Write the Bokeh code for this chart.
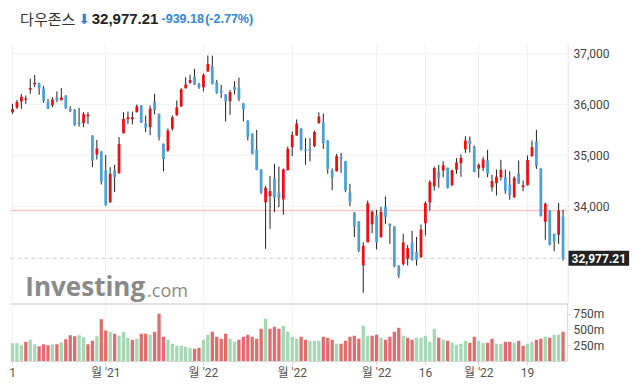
from bokeh.plotting import figure
from bokeh.models import (Range1d, FixedTicker, PrintfTickFormatter,
                          Span, Label, ColumnDataSource)
from bokeh.core.properties import value
from bokeh.layouts import column, row
from bokeh.embed import file_html
from bokeh.resources import INLINE

# ---------------- data ----------------
title_name = "다우존스"
x_tick_idx = [0, 21, 43, 63, 82, 93, 105, 116]
x_tick_labels = ["1", "월 '21", "월 '22", "월 '22", "월 '22", "16", "월 '22", "19"]
price_ticks = [34000, 35000, 36000, 37000]
vol_ticks = [250, 500, 750]
prev_close_start = 35819.56

opens = [35853, 35945, 36063, 36096, 36293, 36404, 36430, 36319, 36063, 35991,
         36142, 36089, 36181, 35919, 35899, 35650, 35636, 35774, 35394, 35020,
         35079, 34705, 34081, 34705, 34652, 35440, 35715, 35715, 35853, 35984,
         35630, 35558, 36056, 35820, 35230, 35092, 35525, 35794, 35965, 36325,
         36430, 36555, 36411, 36345, 36654, 36745, 36437, 36280, 36201, 36070,
         36358, 36339, 36024, 35689, 35433, 35118, 34724, 34081, 34199, 34554,
         34272, 34134, 34711, 35164, 35394, 35532, 35118, 35118, 35184, 35637,
         35643, 35295, 34705, 34691, 34967, 34889, 34278, 33878, 33701, 32835,
         33294, 33648, 33825, 33392, 33996, 33655, 33602, 32834, 32861, 32966,
         33281, 33104, 32999, 33668, 34075, 34396, 34685, 34704, 34757, 34416,
         34718, 34849, 35125, 35295, 35177, 34744, 34757, 34902, 34377, 34455,
         34573, 34573, 34429, 34180, 34646, 34377, 34416, 34987, 35276, 34744,
         33694, 33917, 33458, 33438, 33799]

highs = [36017, 36095, 36214, 36180, 36509, 36588, 36430, 36371, 36115, 36148,
         36260, 36325, 36185, 35971, 35912, 35938, 35853, 35853, 35394, 35308,
         35085, 35013, 34770, 34816, 35361, 35853, 35866, 35866, 36004, 35990,
         35787, 35984, 36214, 35825, 35235, 35532, 35787, 36083, 36325, 36542,
         36588, 36706, 36430, 36614, 36968, 36968, 36489, 36391, 36205, 36293,
         36463, 36535, 36030, 35695, 35438, 35505, 34730, 34400, 34600, 34836,
         34783, 34744, 35177, 35473, 35709, 35537, 35341, 35341, 35492, 35847,
         35827, 35300, 34744, 35033, 35053, 34895, 34442, 33885, 33706, 33294,
         34114, 33917, 33930, 33990, 34193, 33660, 33607, 32840, 33458, 33241,
         33517, 33399, 33642, 34094, 34514, 34783, 34816, 34888, 34760, 34724,
         34947, 35020, 35380, 35374, 35197, 34842, 34974, 35111, 34619, 34724,
         34915, 34724, 34691, 34590, 34902, 34508, 35000, 35295, 35505, 34750,
         34070, 33920, 33460, 34062, 33930]

lows = [35820, 35918, 35919, 36017, 36214, 36345, 36194, 36037, 35915, 35952,
        36050, 36083, 35919, 35853, 35584, 35571, 35558, 35623, 34770, 34921,
        34429, 34010, 34068, 34278, 34645, 35435, 35623, 35610, 35850, 35640,
        35459, 35400, 35807, 35295, 34685, 35072, 35492, 35781, 35960, 36320,
        36411, 36390, 36312, 36260, 36650, 36400, 36214, 36129, 35669, 35801,
        36201, 36070, 35669, 35295, 35020, 34710, 34245, 33163, 33556, 33884,
        33983, 33832, 34705, 34987, 35390, 35098, 34816, 34882, 35164, 35630,
        35131, 34639, 34317, 34685, 34659, 34278, 34002, 33392, 33097, 32297,
        33290, 33471, 33150, 33385, 33655, 33261, 32800, 32592, 32834, 32834,
        32933, 32834, 32986, 33425, 33917, 34311, 34363, 34573, 34350, 34396,
        34639, 34580, 35052, 35059, 34670, 34560, 34692, 34573, 34291, 34213,
        34508, 34245, 34127, 34167, 34442, 34298, 34410, 34980, 34737, 33800,
        33340, 33230, 33117, 33261, 32933]

closes = [35913.84, 36052.63, 36157.58, 36124.23, 36327.95, 36432.22, 36319.98, 36079.94, 35921.23, 36100.31,
          36087.45, 36142.22, 35931.05, 35870.95, 35601.98, 35619.25, 35813.80, 35804.38, 34899.34, 35135.94,
          34483.72, 34022.04, 34639.79, 34580.08, 35227.03, 35719.43, 35754.75, 35754.69, 35970.99, 35650.95,
          35544.18, 35927.43, 35897.64, 35365.44, 34932.16, 35492.70, 35753.89, 35950.56, 36302.38, 36398.21,
          36488.63, 36398.08, 36338.30, 36585.06, 36799.65, 36407.11, 36236.47, 36231.66, 36068.87, 36252.02,
          36290.32, 36113.62, 35911.81, 35368.47, 35028.65, 34715.39, 34265.37, 34364.50, 34297.73, 34168.09,
          34160.78, 34725.47, 35131.86, 35405.24, 35629.33, 35111.16, 35089.74, 35091.13, 35462.78, 35768.06,
          35241.59, 34738.06, 34566.17, 34988.84, 34934.27, 34312.03, 34079.18, 33596.61, 33131.76, 33223.83,
          34058.75, 33892.60, 33294.95, 33891.35, 33794.66, 33614.80, 32817.38, 32632.64, 33286.25, 33174.07,
          32944.19, 32945.24, 33544.34, 34063.10, 34480.76, 34754.93, 34552.99, 34807.46, 34358.50, 34707.94,
          34861.24, 34955.89, 35294.19, 35228.81, 34678.35, 34818.27, 34921.88, 34641.18, 34496.51, 34583.57,
          34721.12, 34308.08, 34220.36, 34564.59, 34451.23, 34411.69, 34911.20, 35160.79, 34792.76, 33811.40,
          34049.46, 33240.18, 33301.93, 33916.39, 32977.21]

volumes_m = [290, 290, 258, 311, 342, 274, 242, 274, 258, 274,
             274, 305, 353, 416, 400, 416, 384, 274, 326, 400,
             669, 490, 469, 437, 405, 469, 374, 342, 358, 437,
             437, 421, 469, 753, 390, 342, 279, 247, 247, 232,
             216, 200, 216, 342, 421, 469, 390, 358, 437, 358,
             311, 342, 390, 421, 390, 358, 516, 674, 516, 547,
             516, 563, 469, 390, 358, 390, 342, 326, 326, 326,
             390, 374, 342, 279, 279, 326, 390, 405, 358, 563,
             405, 405, 421, 374, 342, 390, 469, 532, 405, 374,
             342, 374, 374, 405, 311, 516, 374, 342, 326, 295,
             263, 279, 326, 295, 390, 326, 295, 295, 358, 279,
             279, 311, 311, 295, 326, 247, 279, 311, 342, 358,
             390, 374, 421, 421, 469]

# ---------------- derived ----------------
idx = list(range(len(closes)))
body_top = [max(o, c) for o, c in zip(opens, closes)]
body_bot = [min(o, c) for o, c in zip(opens, closes)]
RED, BLUE = "#f20c0c", "#4a9fdc"
candle_color = [RED if c > o else BLUE for o, c in zip(opens, closes)]
prevs = [prev_close_start] + closes[:-1]
vol_color = ["#a5d8b5" if c >= p else "#e26b6b" for c, p in zip(closes, prevs)]
last_price = closes[-1]
prev_close = closes[-2]
chg = last_price - prev_close
pct = chg / prev_close * 100

src = ColumnDataSource(dict(x=idx, o=opens, h=highs, l=lows, c=closes,
                            top=body_top, bot=body_bot, color=candle_color,
                            vol=volumes_m, vcolor=vol_color))

FONT = "Roboto"
TFONT = "Liberation Sans"
KFONT = "Noto Sans CJK KR"
CHG_BLUE = "#2f86dc"
xr = Range1d(-0.45, 125.0)
yr = Range1d(32087, 37185)


def bare(fig):
    fig.outline_line_color = None
    fig.border_fill_color = "white"
    fig.background_fill_color = "white"
    return fig


# ---------------- title strip ----------------
pt = bare(figure(width=638, height=44, x_range=Range1d(0, 638), y_range=Range1d(44, 0),
                 x_axis_location=None, y_axis_location=None,
                 output_backend="svg", toolbar_location=None,
                 min_border_left=0, min_border_right=0, min_border_top=0, min_border_bottom=0))
pt.grid.visible = False
TY = 18
pt.add_layout(Label(x=11, y=TY, text=title_name, text_font=KFONT, text_font_size="15px",
                    text_color="#333333", text_baseline="middle"))
pt.add_layout(Label(x=78, y=TY, text="\u2b07", text_font="DejaVu Sans", text_font_size="14px",
                    text_color=CHG_BLUE, text_baseline="middle"))
pt.add_layout(Label(x=93, y=TY, text=f"{last_price:,.2f}", text_font=TFONT,
                    text_font_style="bold", text_font_size="15px", text_color="#222222",
                    text_baseline="middle"))
pt.add_layout(Label(x=173, y=TY, text=f"{chg:,.2f}", text_font=TFONT, text_font_style="bold",
                    text_font_size="12.5px", text_color=CHG_BLUE, text_baseline="middle"))
pt.add_layout(Label(x=223, y=TY, text=f"({pct:.2f}%)", text_font=TFONT, text_font_style="bold",
                    text_font_size="12.5px", text_color=CHG_BLUE, text_baseline="middle"))

# ---------------- price panel ----------------
p1 = bare(figure(width=567, height=259, x_range=xr, y_range=yr,
                 x_axis_location=None, y_axis_location=None,
                 output_backend="svg", toolbar_location=None,
                 min_border_left=10, min_border_right=0, min_border_top=0, min_border_bottom=0))
p1.xgrid.ticker = FixedTicker(ticks=x_tick_idx)
p1.ygrid.ticker = FixedTicker(ticks=price_ticks)
p1.xgrid.grid_line_color = "#f1f1f1"
p1.ygrid.grid_line_color = "#f1f1f1"

p1.add_layout(Span(location=prev_close, dimension="width", line_color="#f8c6c6",
                   line_width=1.5, level="underlay"))
p1.add_layout(Span(location=last_price, dimension="width", line_color="#cfcfcf",
                   line_width=1, line_dash="4 3", level="underlay"))

# watermark (behind the candles)
p1.add_layout(Label(x=2.9, y=32440, text="Investing", text_font="Open Sans",
                    text_font_style="bold", text_font_size="26px", text_color="#8a8a8a",
                    text_baseline="middle", level="underlay"))
p1.add_layout(Label(x=30.3, y=32345, text=".com", text_font="Open Sans",
                    text_font_size="18px", text_color="#8a8a8a",
                    text_baseline="middle", level="underlay"))

p1.segment(x0="x", y0="l", x1="x", y1="h", line_color="#222222", line_width=1, source=src)
p1.vbar(x="x", width=0.62, top="top", bottom="bot", fill_color="color",
        line_color=None, source=src)

# ---------------- price scale (right strip) ----------------
pr = bare(figure(width=71, height=259, x_range=Range1d(0, 71), y_range=yr,
                 x_axis_location=None, y_axis_location=None,
                 output_backend="svg", toolbar_location=None,
                 min_border_left=0, min_border_right=0, min_border_top=0, min_border_bottom=0))
pr.grid.visible = False
pr.add_layout(Span(location=0.5, dimension="height", line_color="#dcdcdc", line_width=1))
pr.text(x=[6] * len(price_ticks), y=price_ticks, text=[f"{t:,}" for t in price_ticks],
        text_font=value(FONT), text_font_size="12px", text_color="#444444",
        text_baseline="middle", text_align="left")
pr.add_layout(Label(x=1, y=last_price, text=f"{last_price:,.2f}", text_font=FONT,
                    text_font_style="bold", text_font_size="12px", text_color="white",
                    text_baseline="middle", text_align="left",
                    background_fill_color="#222222", padding=3))

# ---------------- volume panel ----------------
p2 = bare(figure(width=638, height=88, x_range=xr, y_range=Range1d(0, 916),
                 x_axis_location="below", y_axis_location="right",
                 output_backend="svg", toolbar_location=None,
                 min_border_left=10, min_border_right=71, min_border_top=0, min_border_bottom=30))
p2.xgrid.ticker = FixedTicker(ticks=x_tick_idx)
p2.xgrid.grid_line_color = "#f1f1f1"
p2.ygrid.grid_line_color = None
p2.vbar(x="x", width=0.74, top="vol", bottom=0, fill_color="vcolor",
        line_color=None, source=src)
p2.add_layout(Span(location=916, dimension="width", line_color="#c8c8c8", line_width=2))

xa = p2.xaxis[0]
xa.ticker = FixedTicker(ticks=x_tick_idx)
xa.major_label_overrides = {i: t for i, t in zip(x_tick_idx, x_tick_labels)}
xa.axis_line_color = "#d6d6d6"
xa.major_tick_line_color = "#d6d6d6"
xa.minor_tick_line_color = None
xa.major_tick_out = 4
xa.major_tick_in = 0
xa.major_label_standoff = 0
xa.major_label_text_font = f"{FONT}, '{KFONT}'"
xa.major_label_text_font_size = "12px"
xa.major_label_text_color = "#555555"

ya = p2.yaxis[0]
ya.ticker = FixedTicker(ticks=vol_ticks)
ya.formatter = PrintfTickFormatter(format="%dm")
ya.axis_line_color = "#dcdcdc"
ya.major_tick_line_color = "#dcdcdc"
ya.minor_tick_line_color = None
ya.major_tick_out = 3
ya.major_tick_in = 0
ya.major_label_standoff = 3
ya.major_label_text_font = FONT
ya.major_label_text_font_size = "12px"
ya.major_label_text_color = "#444444"

layout = column(pt, row(p1, pr, spacing=0), p2, spacing=0)
open("out.html", "w").write(file_html(layout, INLINE))
